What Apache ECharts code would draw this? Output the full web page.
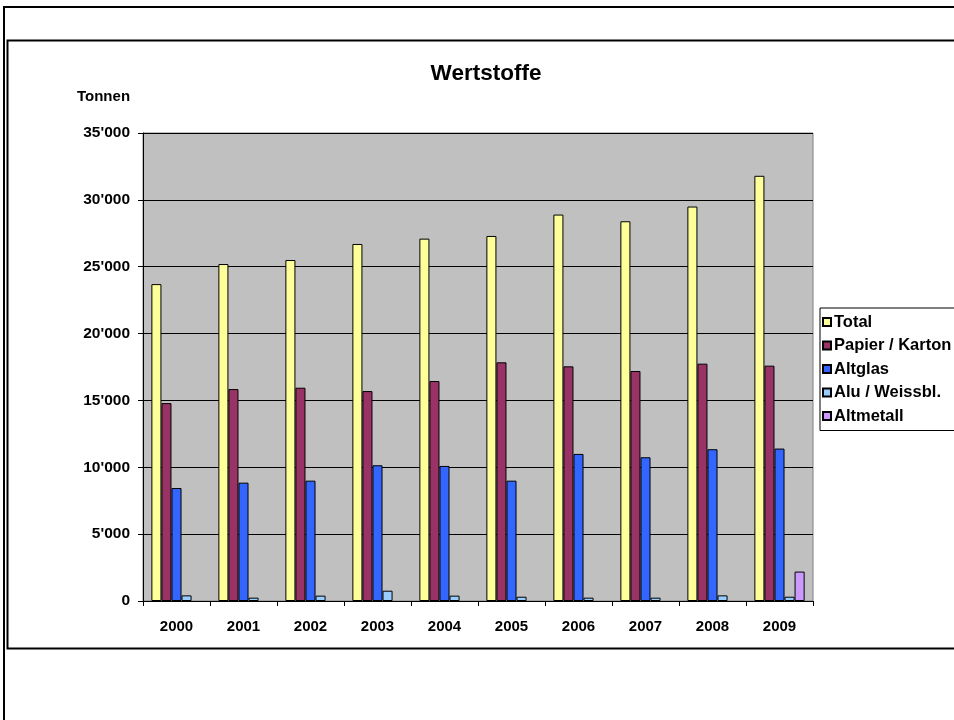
<!DOCTYPE html>
<html>
<head>
<meta charset="utf-8">
<script src="https://cdn.jsdelivr.net/npm/echarts@6/dist/echarts.min.js"></script>
<style>
html,body{margin:0;padding:0;background:#fff;}
#c{width:954px;height:720px;}
</style>
</head>
<body>
<div id="c"></div>
<script>
const years = ['2000','2001','2002','2003','2004','2005','2006','2007','2008','2009'];
const total = [23700, 25200, 25500, 26700, 27100, 27300, 28900, 28400, 29500, 31800];
const papier = [14800, 15850, 15950, 15700, 16450, 17850, 17550, 17200, 17750, 17600];
const altglas = [8450, 8850, 9000, 10150, 10100, 9000, 11000, 10750, 11350, 11400];
const alu = [420, 250, 400, 770, 400, 320, 250, 250, 420, 320];
const altmetall = [null, null, null, null, null, null, null, null, null, 2200];
const yTicks = [0, 5000, 10000, 15000, 20000, 25000, 30000, 35000];

const FONT = '"Liberation Sans", Arial, sans-serif';
const chart = echarts.init(document.getElementById('c'), null, {renderer:'canvas'});

function fmt(v){ return String(v).replace(/\B(?=(\d{3})+(?!\d))/g, "'"); }

function s(name, data, color){
  return {name, type:'bar', data, barGap:'0%', barCategoryGap:'25%',
    itemStyle:{color, borderColor:'#000', borderWidth:1}, animation:false};
}

chart.setOption({
  animation:false,
  textStyle:{fontFamily:FONT},
  title:{text:'Wertstoffe', left:481, top:57, textAlign:'center',
    textStyle:{fontFamily:FONT, fontSize:22.5, fontWeight:'bold', color:'#000'}},
  graphic:[
    {type:'rect', shape:{x:4, y:7, width:1000, height:760}, style:{fill:null, stroke:'#000', lineWidth:2}, silent:true, z:-10},
    {type:'rect', shape:{x:7.5, y:40.5, width:1000, height:608}, style:{fill:null, stroke:'#000', lineWidth:2}, silent:true, z:-10},
    {type:'text', left:77, top:89, style:{text:'Tonnen', fill:'#000', font:'bold 15px "Liberation Sans", Arial, sans-serif'}}
  ],
  legend:{orient:'vertical', left:820, top:308, itemWidth:8, itemHeight:8, itemGap:6.5,
    icon:'rect', backgroundColor:'#fff', borderColor:'#000', borderWidth:1,
    padding:[5.5,10,6,2],
    textStyle:{fontFamily:FONT, fontSize:16.5, fontWeight:'bold', color:'#000', padding:[0,0,0,-2]},
    data:['Total','Papier / Karton','Altglas','Alu / Weissbl.','Altmetall']},
  grid:{left:143, top:133, width:670, height:468, show:true, backgroundColor:'#C0C0C0', borderColor:'#808080', borderWidth:1},
  xAxis:{type:'category', data:years,
    axisLine:{lineStyle:{color:'#000', width:1}},
    axisTick:{show:true, length:5, lineStyle:{color:'#000'}},
    axisLabel:{fontFamily:FONT, fontSize:15, fontWeight:'bold', color:'#000', margin:18}},
  yAxis:{type:'value', min:0, max:35000, interval:5000,
    axisLine:{show:true, lineStyle:{color:'#000'}},
    axisTick:{show:true, length:5, lineStyle:{color:'#000'}},
    splitLine:{show:true, lineStyle:{color:'#000', width:1}},
    axisLabel:{fontFamily:FONT, fontSize:15.5, fontWeight:'bold', color:'#000', margin:13,
      formatter:function(v){ return yTicks.indexOf(v) >= 0 ? fmt(v) : ''; }}},
  series:[
    s('Total', total, '#FFFF99'),
    s('Papier / Karton', papier, '#993366'),
    s('Altglas', altglas, '#3366FF'),
    s('Alu / Weissbl.', alu, '#99CCFF'),
    s('Altmetall', altmetall, '#CC99FF')
  ]
});
</script>
</body>
</html>
